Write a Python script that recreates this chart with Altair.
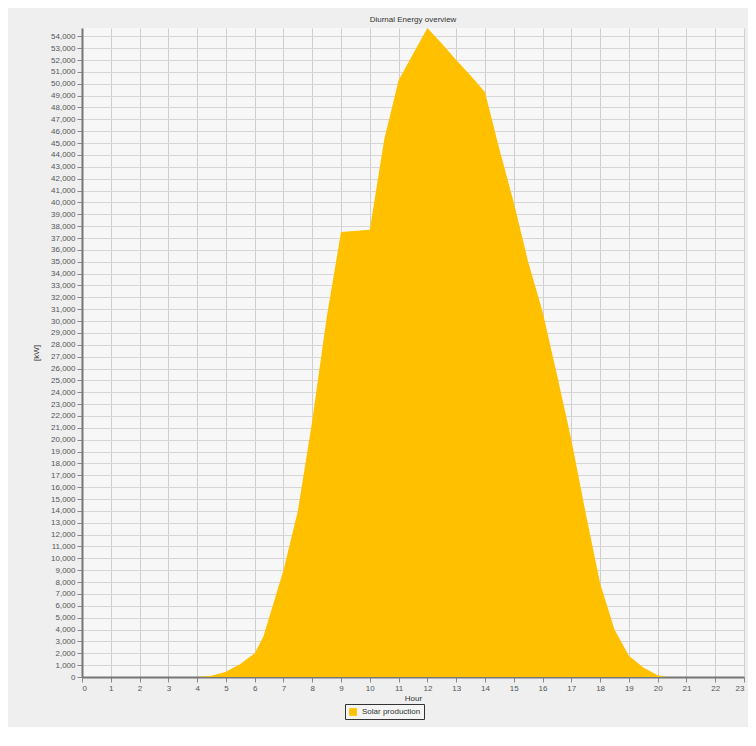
import altair as alt
import pandas as pd

hours = [0, 1, 2, 3, 4, 4.5, 5, 5.5, 6, 6.3, 6.5, 7, 7.5, 8, 8.5, 9, 10, 10.5, 11, 11.5,
         12, 12.5, 13, 13.5, 14, 14.5, 15, 15.5, 16, 16.5, 17, 17.5, 18, 18.5, 19,
         19.5, 20, 20.3, 21, 22, 23]
solar = [0, 0, 0, 0, 0, 100, 450, 1100, 2000, 3400, 5000, 9000, 14000, 21600, 30300,
         37500, 37700, 45300, 50300, 52500, 54700, 53400, 52000, 50700, 49300, 44500,
         40000, 35000, 30800, 25500, 20000, 13800, 7900, 4000, 1800, 800, 150, 0, 0, 0, 0]

df = pd.DataFrame({"Hour": hours, "kW": solar, "series": ["Solar production"] * len(hours)})

x_ticks = list(range(24))
y_ticks = list(range(0, 55000, 1000))

chart = alt.Chart(df).mark_area(opacity=1).encode(
    x=alt.X("Hour:Q", scale=alt.Scale(domain=[0, 23], nice=False),
            axis=alt.Axis(values=x_ticks, format="d", title="Hour", labelFontSize=8,
                          titleFontSize=8, titleFontWeight="normal", labelColor="#555",
                          titleColor="#333", domainColor="#777", domainWidth=2,
                          tickColor="#888", gridColor="#cfcfcf", titlePadding=2)),
    y=alt.Y("kW:Q", scale=alt.Scale(domain=[0, 54700], nice=False),
            axis=alt.Axis(values=y_ticks, format=",.0f", title="[kW]", labelFontSize=8,
                          titleFontSize=8, titleFontWeight="normal", labelColor="#555",
                          titleColor="#333", domainColor="#777", domainWidth=2,
                          tickColor="#888", gridColor="#d6d6d6", titlePadding=10,
                          labelOverlap=False)),
    fill=alt.Fill("series:N", scale=alt.Scale(range=["#FFC000"]),
                  legend=alt.Legend(title=None, orient="none", legendX=263, legendY=676,
                                    symbolType="square", symbolSize=60, labelFontSize=8,
                                    labelColor="#333", strokeColor="#333", padding=3,
                                    fillColor="#f4f4f4")),
).properties(
    width=662, height=649,
    title=alt.Title("Diurnal Energy overview", fontSize=8, fontWeight="normal",
                    color="#333", offset=4),
    autosize=alt.AutoSizeParams(type="none"),
    padding={"left": 74, "top": 20, "right": 4, "bottom": 50},
    background="#efefef",
).configure_view(fill="#f7f7f7", stroke=None)

chart.save("out.html", embed_options={"renderer": "svg", "actions": False})
